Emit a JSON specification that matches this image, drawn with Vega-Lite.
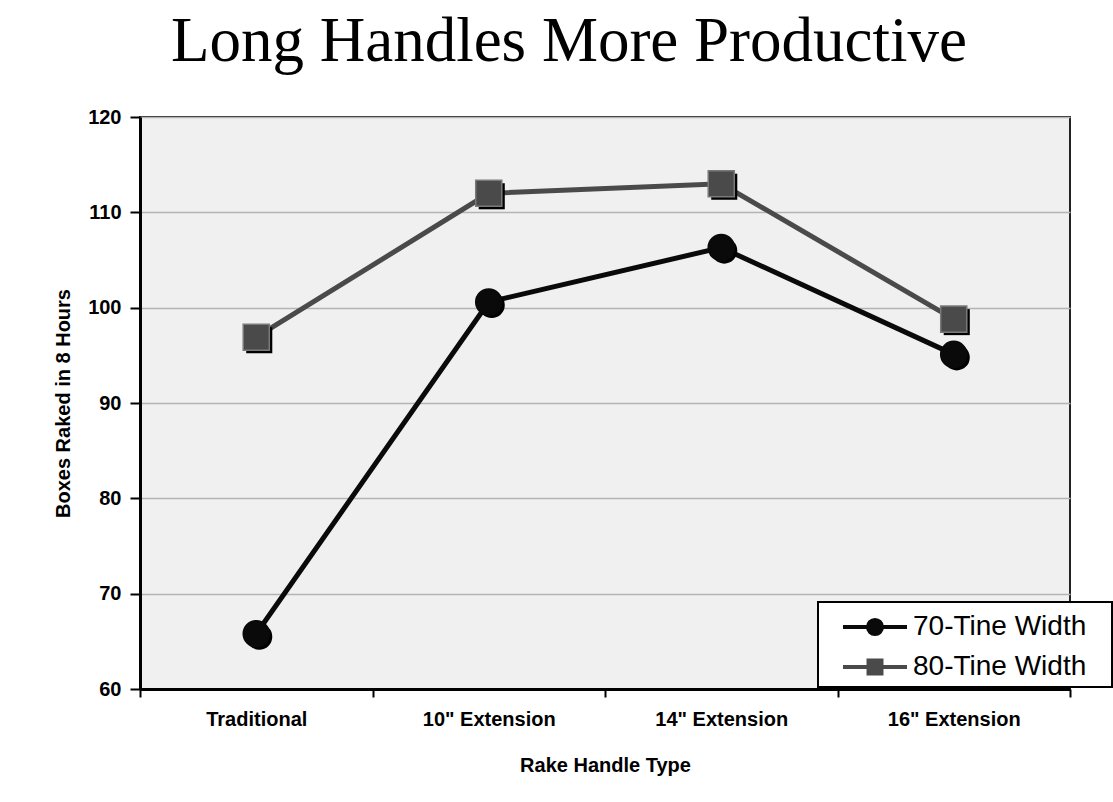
{
  "$schema": "https://vega.github.io/schema/vega-lite/v6.json",
  "width": 930,
  "height": 572,
  "autosize": {"type": "none"},
  "padding": {"left": 140, "top": 117, "right": 43, "bottom": 113},
  "background": "#ffffff",
  "title": {
    "text": "Long Handles More Productive",
    "font": "Liberation Serif",
    "fontSize": 63,
    "fontWeight": "normal",
    "color": "#000000",
    "anchor": "middle",
    "baseline": "top",
    "offset": 33,
    "dx": -36
  },
  "config": {
    "view": {"fill": "#f0f0f0", "stroke": "#222222", "strokeWidth": 2},
    "axis": {
      "labelFont": "Liberation Sans",
      "labelFontWeight": "bold",
      "labelFontSize": 20,
      "labelColor": "#000000",
      "titleFont": "Liberation Sans",
      "titleFontWeight": "bold",
      "titleFontSize": 20,
      "titleColor": "#000000",
      "domainColor": "#000000",
      "domainWidth": 3,
      "tickColor": "#000000",
      "tickWidth": 2
    }
  },
  "data": {
    "values": [
      {"handle": "Traditional", "series": "70-Tine Width", "boxes": 65.8},
      {"handle": "10\" Extension", "series": "70-Tine Width", "boxes": 100.6},
      {"handle": "14\" Extension", "series": "70-Tine Width", "boxes": 106.3},
      {"handle": "16\" Extension", "series": "70-Tine Width", "boxes": 95.1},
      {"handle": "Traditional", "series": "80-Tine Width", "boxes": 96.9},
      {"handle": "10\" Extension", "series": "80-Tine Width", "boxes": 112.0},
      {"handle": "14\" Extension", "series": "80-Tine Width", "boxes": 113.0},
      {"handle": "16\" Extension", "series": "80-Tine Width", "boxes": 98.8}
    ]
  },
  "encoding": {
    "x": {
      "field": "handle",
      "type": "nominal",
      "sort": ["Traditional", "10\" Extension", "14\" Extension", "16\" Extension"],
      "scale": {"paddingInner": 0, "paddingOuter": 0},
      "axis": {
        "title": "Rake Handle Type",
        "labelAngle": 0,
        "tickBand": "extent",
        "tickSize": 8,
        "labelPadding": 12,
        "titlePadding": 26,
        "grid": false
      }
    },
    "y": {
      "field": "boxes",
      "type": "quantitative",
      "scale": {"domain": [60, 120], "nice": false, "zero": false},
      "axis": {
        "title": "Boxes Raked in 8 Hours",
        "values": [60, 70, 80, 90, 100, 110, 120],
        "tickSize": 10,
        "labelPadding": 9,
        "titlePadding": 14,
        "grid": true,
        "gridColor": "#b3b3b3",
        "gridWidth": 1.5
      }
    }
  },
  "layer": [
    {
      "mark": {"type": "line", "strokeWidth": 5},
      "encoding": {
        "color": {
          "field": "series",
          "type": "nominal",
          "scale": {"domain": ["70-Tine Width", "80-Tine Width"], "range": ["#0a0a0a", "#4a4a4a"]},
          "legend": {
            "orient": "none",
            "legendX": 678,
            "legendY": 485,
            "title": null,
            "padding": 5,
            "strokeColor": "#000000",
            "fillColor": "#ffffff",
            "cornerRadius": 0,
            "labelFont": "Liberation Sans",
            "labelFontSize": 28,
            "labelColor": "#000000",
            "labelLimit": 400,
            "symbolSize": 1296,
            "symbolStrokeWidth": 4,
            "symbolOffset": 32,
            "labelOffset": 18,
            "rowPadding": 4,
            "encode": {
              "legend": {"update": {"strokeWidth": {"value": 2}}},
              "symbols": {
                "update": {
                  "shape": {"signal": "datum.value === '70-Tine Width' ? 'M-2.89,0M12.4,0M-1.778,0H1.778M0.39,0A0.39,0.39 0 1,1 -0.39,0A0.39,0.39 0 1,1 0.39,0Z' : 'M-2.89,0M12.4,0M-1.778,0H1.778M-0.36,-0.36H0.36V0.36H-0.36Z'"},
                  "fill": {"scale": "color", "field": "value"},
                  "stroke": {"scale": "color", "field": "value"},
                  "strokeWidth": {"value": 4},
                  "size": {"value": 1296},
                  "opacity": {"value": 1}
                }
              }
            }
          }
        }
      }
    },
    {
      "transform": [{"filter": "datum.series === '70-Tine Width'"}],
      "mark": {"type": "point", "shape": "circle", "filled": true, "size": 680, "xOffset": 3, "yOffset": 3, "fill": "#000000", "opacity": 1}
    },
    {
      "transform": [{"filter": "datum.series === '80-Tine Width'"}],
      "mark": {"type": "point", "shape": "square", "filled": true, "size": 680, "xOffset": 3, "yOffset": 3, "fill": "#000000", "opacity": 1}
    },
    {
      "transform": [{"filter": "datum.series === '70-Tine Width'"}],
      "mark": {"type": "point", "shape": "circle", "filled": true, "size": 680, "fill": "#0a0a0a", "stroke": "#0a0a0a", "strokeWidth": 1.5, "opacity": 1}
    },
    {
      "transform": [{"filter": "datum.series === '80-Tine Width'"}],
      "mark": {"type": "point", "shape": "square", "filled": true, "size": 680, "fill": "#4a4a4a", "stroke": "#7a7a7a", "strokeWidth": 1.5, "opacity": 1}
    }
  ]
}
